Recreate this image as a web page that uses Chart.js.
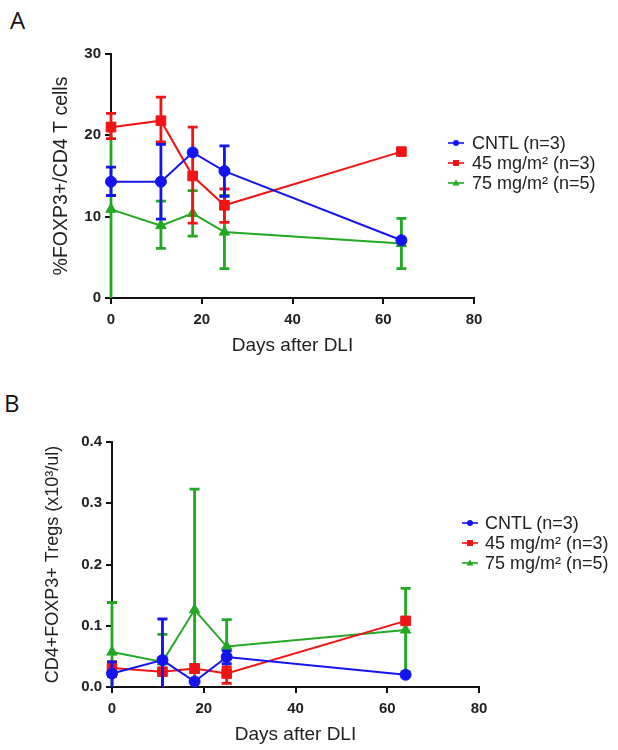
<!DOCTYPE html>
<html>
<head>
<meta charset="utf-8">
<script src="https://cdn.jsdelivr.net/npm/chart.js@4.4.0/dist/chart.umd.min.js"></script>
<style>
  html, body { margin:0; padding:0; background:#fff; width:618px; height:750px; overflow:hidden;
    font-family:"Liberation Sans", Arial, sans-serif; }
  .panel { position:absolute; left:0; width:618px; height:375px; }
  .letter { position:absolute; font-family:"Open Sans", sans-serif; font-size:24px; color:#111; line-height:1; }
  .legend { position:absolute; font-size:18px; color:#222; }
  .legend .row { position:absolute; left:0; height:20px; line-height:20px; white-space:nowrap; }
  .legend svg { position:absolute; left:0; top:2px; }
  .legend span { position:absolute; top:0; }
</style>
</head>
<body>
<div class="letter" style="left:10px;top:8px;">A</div>
<div class="letter" style="left:4px;top:391px;">B</div>
<div class="panel" style="top:0"><canvas id="chartA"></canvas></div>
<div class="panel" style="top:375px"><canvas id="chartB"></canvas></div>
<div class="legend" id="legendA" style="left:448px;top:133px;"></div>
<div class="legend" id="legendB" style="left:462px;top:513px;"></div>
<script>
// ---------- data ----------
const days = [0, 11, 18, 25, 64];
const seriesLabels = ['CNTL (n=3)', '45 mg/m\u00B2 (n=3)', '75 mg/m\u00B2 (n=5)'];
const seriesColors = ['#1414f0', '#f01414', '#22a822'];
const seriesShapes = ['circle', 'rect', 'triangle'];

// Panel A: %FOXP3+/CD4 T cells
const cntlA = [14.3, 14.3, 17.9, 15.6, 7.1];
const mg45A = [21.0, 21.8, 15.0, 11.4, 18.0];
const mg75A = [10.9, 8.9, 10.4, 8.1, 6.7];
const cntlAErr = [[12.6, 16.1], [9.7, 18.9], null, [12.5, 18.7], null];
const mg45AErr = [[19.6, 22.7], [19.2, 24.7], [9.2, 21.0], [9.3, 13.4], null];
const mg75AErr = [[-1.0, 21.5], [6.1, 11.9], [7.6, 13.2], [3.6, 12.6], [3.6, 9.8]];
const xTicks = [0, 20, 40, 60, 80];
const yTicksA = [0, 10, 20, 30];

// Panel B: CD4+FOXP3+ Tregs (x10^3/ul)
const cntlB = [0.022, 0.044, 0.009, 0.049, 0.020];
const mg45B = [0.031, 0.025, 0.030, 0.022, 0.108];
const mg75B = [0.057, 0.041, 0.126, 0.066, 0.093];
const cntlBErr = [[-0.005, 0.041], [-0.02, 0.111], null, [0.038, 0.059], null];
const mg45BErr = [[0.017, 0.041], [-0.002, 0.048], [0.024, 0.037], [0.006, 0.033], null];
const mg75BErr = [[-0.02, 0.138], [-0.004, 0.086], [-0.07, 0.323], [0.022, 0.110], [0.025, 0.161]];
const yTicksB = [0.0, 0.1, 0.2, 0.3, 0.4];

const xTitle = 'Days after DLI';
const yTitleA = '%FOXP3+/CD4 T cells';
const yTitleB = 'CD4+FOXP3+ Tregs (x10\u00B3/ul)';

// ---------- helpers ----------
Chart.defaults.font.family = '"Liberation Sans", Arial, sans-serif';
Chart.defaults.color = '#222';

const errorBarPlugin = {
  id: 'errorBars',
  beforeDatasetDraw(chart, args) {
    const ds = chart.data.datasets[args.index];
    const errs = ds.errorBars;
    if (!errs) return;
    const meta = args.meta, ys = chart.scales.y, ctx = chart.ctx, area = chart.chartArea;
    ctx.save();
    ctx.beginPath();
    ctx.rect(area.left - 12, area.top - 12, area.right - area.left + 24, area.bottom - area.top + 12);
    ctx.clip();
    ctx.strokeStyle = ds.borderColor;
    ctx.lineWidth = 2.8;
    errs.forEach((e, i) => {
      if (!e) return;
      const x = meta.data[i].x;
      const yLo = ys.getPixelForValue(e[0]);
      const yHi = ys.getPixelForValue(e[1]);
      ctx.beginPath();
      ctx.moveTo(x, yLo); ctx.lineTo(x, yHi);
      ctx.moveTo(x - 5, yHi); ctx.lineTo(x + 5, yHi);
      ctx.moveTo(x - 5, yLo); ctx.lineTo(x + 5, yLo);
      ctx.stroke();
    });
    ctx.restore();
  }
};

function makeDatasets(vals, errs) {
  return vals.map((v, k) => ({
    label: seriesLabels[k],
    data: days.map((d, i) => ({ x: d, y: v[i] })),
    errorBars: errs[k],
    showLine: true,
    borderColor: seriesColors[k],
    backgroundColor: seriesColors[k],
    borderWidth: 2,
    pointStyle: seriesShapes[k],
    pointRadius: [5.5, 6.8, 6][k],
    pointHoverRadius: [5.5, 6.8, 6][k],
    pointBorderWidth: 1,
    clip: false
  }));
}

function makeChart(id, vals, errs, yTicks, yTitle, geo) {
  new Chart(document.getElementById(id), {
    type: 'scatter',
    data: { datasets: makeDatasets(vals, errs) },
    plugins: [errorBarPlugin],
    options: {
      responsive: true,
      maintainAspectRatio: false,
      animation: false,
      layout: { padding: { left: 0, top: geo.top, right: geo.right, bottom: geo.bottom } },
      plugins: { legend: { display: false }, tooltip: { enabled: false } },
      scales: {
        x: {
          type: 'linear',
          min: xTicks[0], max: xTicks[xTicks.length - 1],
          afterBuildTicks: s => { s.ticks = xTicks.map(v => ({ value: v })); },
          afterFit: s => { s.height = geo.xHeight; },
          grid: { display: true, drawOnChartArea: false, drawTicks: true, tickLength: 6, color: '#111', lineWidth: 2 },
          border: { display: true, color: '#111', width: 2 },
          ticks: { padding: 7, color: '#222', font: { size: 15, weight: 'bold' } },
          title: { display: true, text: xTitle, color: '#222', padding: { top: 0, bottom: 0 },
                   font: { size: 19, lineHeight: 1.2 } }
        },
        y: {
          type: 'linear',
          min: yTicks[0], max: yTicks[yTicks.length - 1],
          afterBuildTicks: s => { s.ticks = yTicks.map(v => ({ value: v })); },
          afterFit: s => { s.width = geo.yWidth; },
          grid: { display: true, drawOnChartArea: false, drawTicks: true, tickLength: 6, color: '#111', lineWidth: 2 },
          border: { display: true, color: '#111', width: 2 },
          ticks: { padding: 4, color: '#222', font: { size: 15, weight: 'bold' },
                   callback: v => geo.dec ? Number(v).toFixed(geo.dec) : String(v) },
          title: { display: true, text: yTitle, color: '#222', padding: { top: geo.yTitlePad, bottom: 0 },
                   font: { size: geo.yTitleSize, lineHeight: 1.2 } }
        }
      }
    }
  });
}

function makeLegend(id, textOffset) {
  const el = document.getElementById(id);
  seriesLabels.forEach((lab, k) => {
    const row = document.createElement('div');
    row.className = 'row';
    row.style.top = (k * 20) + 'px';
    const c = seriesColors[k];
    let marker;
    if (k === 0) marker = `<circle cx="8" cy="8" r="3" fill="${c}"/>`;
    else if (k === 1) marker = `<rect x="5" y="5" width="6" height="6" fill="${c}"/>`;
    else marker = `<polygon points="8,4.5 11.5,10.5 4.5,10.5" fill="${c}"/>`;
    row.innerHTML = `<svg width="16" height="16" viewBox="0 0 16 16"><line x1="0" y1="8" x2="16" y2="8" stroke="${c}" stroke-width="1.6"/>${marker}</svg>` +
      `<span style="left:${textOffset}px">${lab}</span>`;
    el.appendChild(row);
  });
}

makeChart('chartA', [cntlA, mg45A, mg75A], [cntlAErr, mg45AErr, mg75AErr], yTicksA, yTitleA,
  { top: 54, right: 144, bottom: 17.6, xHeight: 59.4, yWidth: 111, yTitlePad: 50, yTitleSize: 19.5, dec: 0 });
makeChart('chartB', [cntlB, mg45B, mg75B], [cntlBErr, mg45BErr, mg75BErr], yTicksB, yTitleB,
  { top: 67, right: 139, bottom: 3.6, xHeight: 59.4, yWidth: 112, yTitlePad: 42, yTitleSize: 18, dec: 1 });
makeLegend('legendA', 24);
makeLegend('legendB', 23);
</script>
</body>
</html>
